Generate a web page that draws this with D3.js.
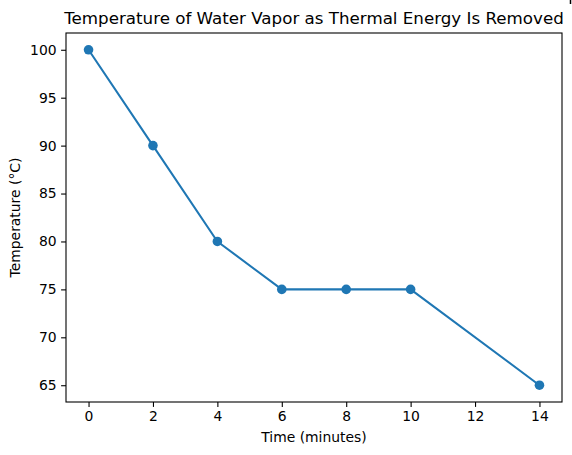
<!DOCTYPE html>
<html>
<head>
<meta charset="utf-8">
<script src="https://cdn.jsdelivr.net/npm/d3@7"></script>
<style>
  body { margin: 0; background: #fff; }
  text { font-family: "DejaVu Sans", sans-serif; fill: #000; }
</style>
</head>
<body>
<div id="chart"></div>
<script>
// data
var times = [0, 2, 4, 6, 8, 10, 14];
var temps = [100, 90, 80, 75, 75, 75, 65];
var xTicks = [0, 2, 4, 6, 8, 10, 12, 14];
var yTicks = [65, 70, 75, 80, 85, 90, 95, 100];

var W = 572, H = 455;
var margin = { top: 33, right: 10, bottom: 53, left: 66 },
    width = W - margin.left - margin.right,
    height = H - margin.top - margin.bottom;

var svg = d3.select("#chart")
    .append("svg")
    .attr("width", W)
    .attr("height", H);

var g = svg.append("g")
    .attr("transform", "translate(" + margin.left + "," + margin.top + ")");

// matplotlib style 5% padding
var x = d3.scaleLinear().domain([-0.7, 14.7]).range([0, width]);
var y = d3.scaleLinear().domain([63.25, 101.75]).range([height, 0]);

var xAxis = g.append("g")
    .attr("transform", "translate(0," + height + ")")
    .call(d3.axisBottom(x).tickValues(xTicks).tickSize(4.9).tickPadding(4.5).tickFormat(d3.format("d")));
var yAxis = g.append("g")
    .call(d3.axisLeft(y).tickValues(yTicks).tickSize(4.9).tickPadding(4.5).tickFormat(d3.format("d")));

[xAxis, yAxis].forEach(function (a) {
    a.select(".domain").remove();
    a.selectAll("line").attr("stroke", "#000").attr("stroke-width", 1.1);
    a.selectAll("text").style("font-size", "13.9px").style("font-family", "DejaVu Sans, sans-serif");
});

// frame
g.append("rect")
    .attr("width", width)
    .attr("height", height)
    .attr("fill", "none")
    .attr("stroke", "#000")
    .attr("stroke-width", 1.1);

var line = d3.line()
    .x(function (d, i) { return x(times[i]); })
    .y(function (d) { return y(d); });

g.append("path")
    .datum(temps)
    .attr("fill", "none")
    .attr("stroke", "#1f77b4")
    .attr("stroke-width", 2.08)
    .attr("stroke-linejoin", "round")
    .attr("d", line);

g.selectAll(".dot")
    .data(temps)
    .enter().append("circle")
    .attr("class", "dot")
    .attr("cx", function (d, i) { return x(times[i]); })
    .attr("cy", function (d) { return y(d); })
    .attr("r", 4.8)
    .attr("fill", "#1f77b4");

// title and labels
svg.append("text")
    .attr("x", margin.left + width / 2)
    .attr("y", 24)
    .style("text-anchor", "middle")
    .style("font-size", "16.7px")
    .text("Temperature of Water Vapor as Thermal Energy Is Removed");

svg.append("text")
    .attr("x", margin.left + width / 2)
    .attr("y", 442)
    .style("text-anchor", "middle")
    .style("font-size", "13.9px")
    .text("Time (minutes)");

svg.append("text")
    .attr("transform", "translate(20," + (margin.top + height / 2) + ") rotate(-90)")
    .style("text-anchor", "middle")
    .style("font-size", "13.9px")
    .text("Temperature (°C)");

// small stray mark at top right corner
svg.append("line")
    .attr("x1", 570.5).attr("x2", 570.5)
    .attr("y1", 0).attr("y2", 4)
    .attr("stroke", "#000")
    .attr("stroke-width", 1.5);
</script>
</body>
</html>
